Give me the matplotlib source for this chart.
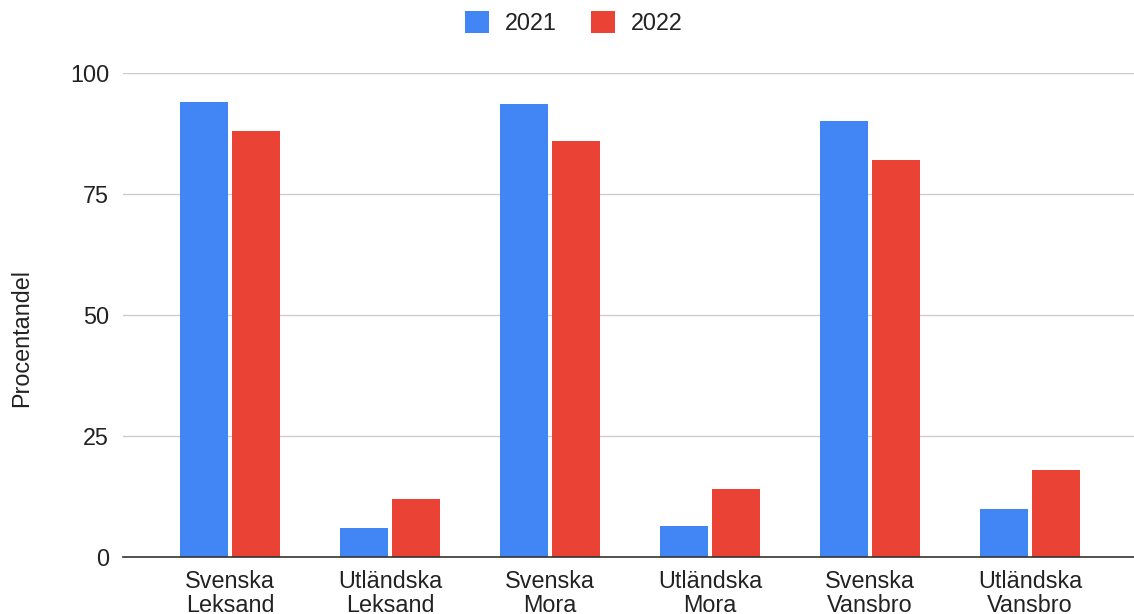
import matplotlib
matplotlib.use("Agg")
import matplotlib.pyplot as plt
import numpy as np
from matplotlib.patches import Patch

categories = ["Svenska\nLeksand", "Utländska\nLeksand", "Svenska\nMora",
              "Utländska\nMora", "Svenska\nVansbro", "Utländska\nVansbro"]
series_names = ["2021", "2022"]
values_2021 = [94, 6, 93.5, 6.5, 90, 10]
values_2022 = [88, 12, 86, 14, 82, 18]
y_ticks = [0, 25, 50, 75, 100]
y_label = "Procentandel"
colors = ["#4285F4", "#EA4335"]

FS = 16.8
plt.rcParams['font.family'] = ['Liberation Sans', 'DejaVu Sans']
W, H = 1134, 614
fig = plt.figure(figsize=(W / 100, H / 100), dpi=100)
ax = fig.add_axes([123 / W, (H - 557) / H, 1 - 123 / W, (557 - 73) / H])

x = np.arange(len(categories))
bw = 0.3
gap = 0.025
ax.bar(x - bw / 2 - gap / 2, values_2021, width=bw, color=colors[0], zorder=3)
ax.bar(x + bw / 2 + gap / 2, values_2022, width=bw, color=colors[1], zorder=3)

ax.set_xlim(-0.669, 5.65)
ax.set_ylim(0, 100)
ax.set_yticks(y_ticks)
ax.set_yticklabels([str(t) for t in y_ticks])
ax.set_xticks(x)
ax.set_xticklabels(categories, linespacing=1.08)
ax.tick_params(axis='both', length=0, labelsize=FS, colors='#222222')
ax.tick_params(axis='y', pad=10)
ax.tick_params(axis='x', pad=9)
ax.grid(axis='y', color='#cccccc', linewidth=1, zorder=0)
for s in ['top', 'right', 'left']:
    ax.spines[s].set_visible(False)
ax.spines['bottom'].set_color('#333333')
ax.spines['bottom'].set_linewidth(1.2)
ax.spines['bottom'].set_zorder(4)

fig.text(22 / W, 1 - 338 / H, y_label, rotation=90, ha='center', va='center',
         fontsize=FS, color='#222222')

handles = [Patch(facecolor=colors[0]), Patch(facecolor=colors[1])]
fig.legend(handles, series_names, loc='center', bbox_to_anchor=(574 / W, 1 - 23 / H),
           ncol=2, frameon=False, fontsize=FS, handlelength=1.03, handleheight=1.03,
           handletextpad=0.69, columnspacing=1.46, labelcolor='#222222')

fig.savefig("out.png", dpi=100)
